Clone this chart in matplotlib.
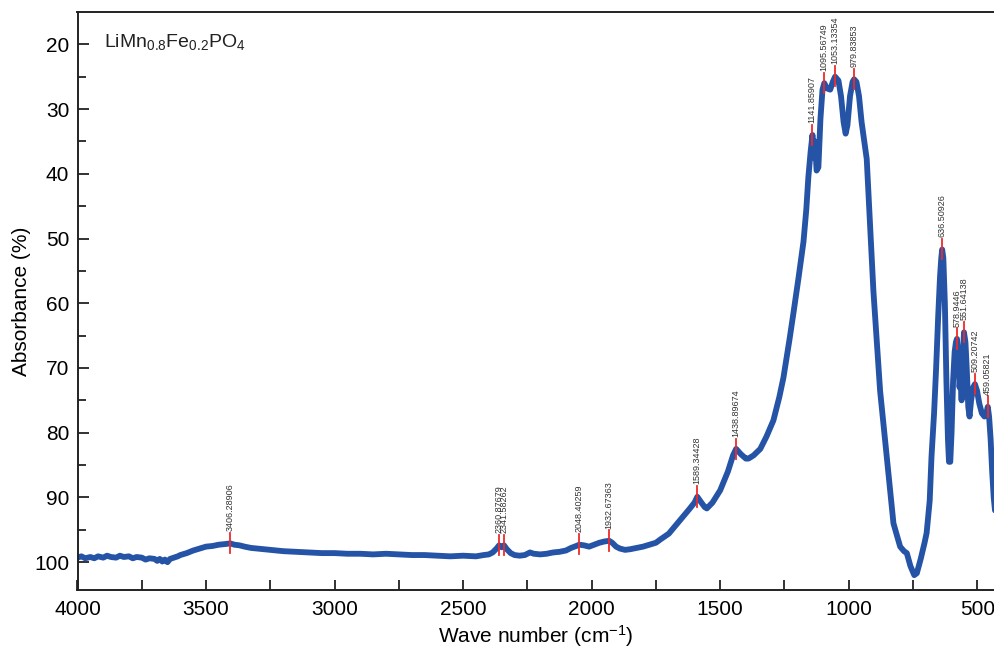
import matplotlib
matplotlib.use("Agg")
import matplotlib.pyplot as plt
from matplotlib.ticker import MultipleLocator

plt.rcParams['font.family'] = ['Liberation Sans', 'DejaVu Sans']
plt.rcParams['mathtext.default'] = 'regular'

# Spectrum: wave number (cm-1) and absorbance (%)
wavenumber = [
    4000, 3985, 3970, 3950, 3935, 3920, 3900, 3885, 3870, 3850, 3835, 3820, 3800,
    3785, 3770, 3750, 3735, 3720, 3700, 3690, 3680, 3670, 3660, 3650, 3640, 3625,
    3610, 3600, 3575, 3550, 3525, 3500, 3475, 3450, 3425, 3406,
    3390, 3370, 3350, 3325, 3300, 3275, 3250, 3200, 3150, 3100, 3050, 3000, 2950,
    2900, 2850, 2800, 2750, 2700, 2650, 2600, 2550, 2500, 2450, 2420, 2400, 2385,
    2370, 2360, 2350, 2341, 2330, 2315, 2300, 2280, 2260, 2240, 2225, 2200, 2175,
    2150, 2125, 2100, 2080, 2060, 2048, 2030, 2010, 1990, 1970, 1950, 1932, 1920,
    1905, 1890, 1870, 1850, 1800, 1750, 1733, 1700, 1656, 1620, 1600, 1589, 1575,
    1560, 1552, 1530, 1500, 1470, 1450, 1438, 1420, 1400, 1390, 1370, 1344, 1320,
    1293, 1270, 1254, 1230, 1215, 1195, 1176, 1165, 1157, 1148, 1141, 1136, 1131,
    1125, 1118, 1110, 1102, 1095, 1085, 1072, 1062, 1053, 1040, 1030, 1020, 1012,
    1005, 995, 985, 979, 970, 960, 950, 930, 904, 878, 852, 826, 800, 785, 774,
    760, 745, 735, 720, 705, 697, 685, 678, 668, 660, 652, 645, 640, 636.5, 632,
    626, 620, 614, 610, 605, 600, 594, 588, 583, 578.9, 574, 569, 565, 561, 556,
    551.6, 546, 541, 535, 530, 524, 516, 509.2, 501, 492, 482, 472, 465, 459.1,
    454, 448, 442, 436, 431,
]
absorbance = [
    99.3, 99.1, 99.4, 99.2, 99.4, 99.1, 99.3, 99.0, 99.2, 99.3, 99.0, 99.2, 99.1,
    99.4, 99.2, 99.3, 99.6, 99.4, 99.5, 99.8, 99.5, 99.9, 99.6, 100.0, 99.5, 99.3,
    99.1, 98.9, 98.6, 98.2, 97.9, 97.6, 97.5, 97.3, 97.2, 97.1,
    97.3, 97.4, 97.6, 97.8, 97.9, 98.0, 98.1, 98.3, 98.4, 98.5, 98.6, 98.6, 98.7,
    98.7, 98.8, 98.7, 98.8, 98.9, 98.9, 99.0, 99.1, 99.0, 99.1, 98.9, 98.8, 98.5,
    97.9, 97.4, 97.7, 97.4, 98.0, 98.6, 98.9, 99.0, 98.9, 98.5, 98.7, 98.8, 98.7,
    98.5, 98.4, 98.2, 97.8, 97.5, 97.3, 97.4, 97.6, 97.3, 97.0, 96.8, 96.7, 97.0,
    97.6, 97.9, 98.1, 98.0, 97.6, 97.0, 96.5, 95.6, 93.5, 91.8, 90.8, 89.9, 90.7,
    91.5, 91.7, 90.8, 88.9, 86.0, 83.5, 82.5, 83.3, 84.0, 84.0, 83.5, 82.5, 80.6,
    78.1, 74.5, 71.5, 65.5, 61.5, 56.0, 50.5, 45.5, 40.5, 36.5, 34.0, 37.5, 35.0,
    39.5, 39.0, 31.5, 27.0, 26.0, 26.8, 27.0, 25.8, 25.0, 25.6, 28.0, 32.0, 33.8,
    32.5, 28.0, 25.8, 25.4, 25.8, 28.0, 32.0, 37.7, 58.1, 73.5, 83.7, 94.0, 97.6, 98.3, 98.6,
    100.6, 102.0, 101.7, 99.5, 97.0, 95.5, 90.5, 83.7, 77.0, 70.0, 62.0, 56.0, 53.0, 51.7, 53.0,
    60.0, 72.0, 81.0, 84.5, 84.5, 80.0, 72.0, 67.5, 66.0, 65.5, 68.0, 73.0, 71.0, 75.0, 68.0,
    64.5, 66.0, 70.0, 76.0, 77.5, 75.0, 73.0, 72.5, 73.5, 75.5, 77.0, 77.5, 77.0, 76.0,
    77.5, 81.0, 86.0, 90.0, 92.0,
]

# Peak annotations
peak_labels = ["3406.28906", "2360.87679", "2341.58262", "2048.40259", "1932.67363",
               "1589.34428", "1438.89674", "1141.85907", "1095.56749", "1053.13354",
               "979.83853", "636.50926", "578.9446", "551.64138", "509.20742", "459.05821"]
peak_x = [3406.28906, 2360.87679, 2341.58262, 2048.40259, 1932.67363,
          1589.34428, 1438.89674, 1141.85907, 1095.56749, 1053.13354,
          979.83853, 636.50926, 578.9446, 551.64138, 509.20742, 459.05821]
peak_y = [97.1, 97.4, 97.4, 97.3, 96.7, 89.9, 82.5, 34.0, 26.0, 25.0,
          25.4, 51.7, 65.5, 64.5, 72.5, 76.0]

fig = plt.figure(figsize=(9.95, 6.5), dpi=100)
ax = fig.add_axes([77.5 / 995, 1 - 590 / 650, 1 - 77.5 / 995, (590 - 12.3) / 650])

ax.plot(wavenumber, absorbance, color='#2553a5', lw=4.2, solid_capstyle='round',
        solid_joinstyle='round', zorder=2)

for lab, px, py in zip(peak_labels, peak_x, peak_y):
    ax.plot([px, px], [py + 1.5, py - 1.6], color='#ee2a2a', lw=1.3, zorder=3)
    ax.text(px, py - 1.9, lab, rotation=90, ha='center', va='bottom',
            fontsize=6.5, color='#333333', zorder=4)

ax.set_xlim(4000, 431)
ax.set_ylim(104.3, 15.05)

ax.xaxis.set_major_locator(MultipleLocator(500))
ax.xaxis.set_minor_locator(MultipleLocator(250))
ax.yaxis.set_major_locator(MultipleLocator(10))
ax.yaxis.set_minor_locator(MultipleLocator(5))

ax.tick_params(axis='x', which='both', direction='in', length=7, width=1.3,
               labelsize=15, pad=7.5, color='#222222')
ax.tick_params(axis='y', which='major', direction='in', length=8, width=1.3,
               labelsize=15, pad=6, color='#222222')
ax.tick_params(axis='y', which='minor', direction='in', length=5.5, width=1.3,
               color='#222222')

for s in ['left', 'top', 'bottom']:
    ax.spines[s].set_linewidth(1.4)
    ax.spines[s].set_color('#222222')
ax.spines['right'].set_visible(False)

ax.set_xlabel('Wave number (cm$^{-1}$)', fontsize=15, labelpad=3)
ax.set_ylabel('Absorbance (%)', fontsize=15, labelpad=2)

ax.text(0.029, 0.948, r'LiMn$_{0.8}$Fe$_{0.2}$PO$_4$', transform=ax.transAxes,
        fontsize=14, ha='left', va='center', color='#222222')

fig.savefig('out.png', dpi=100)
